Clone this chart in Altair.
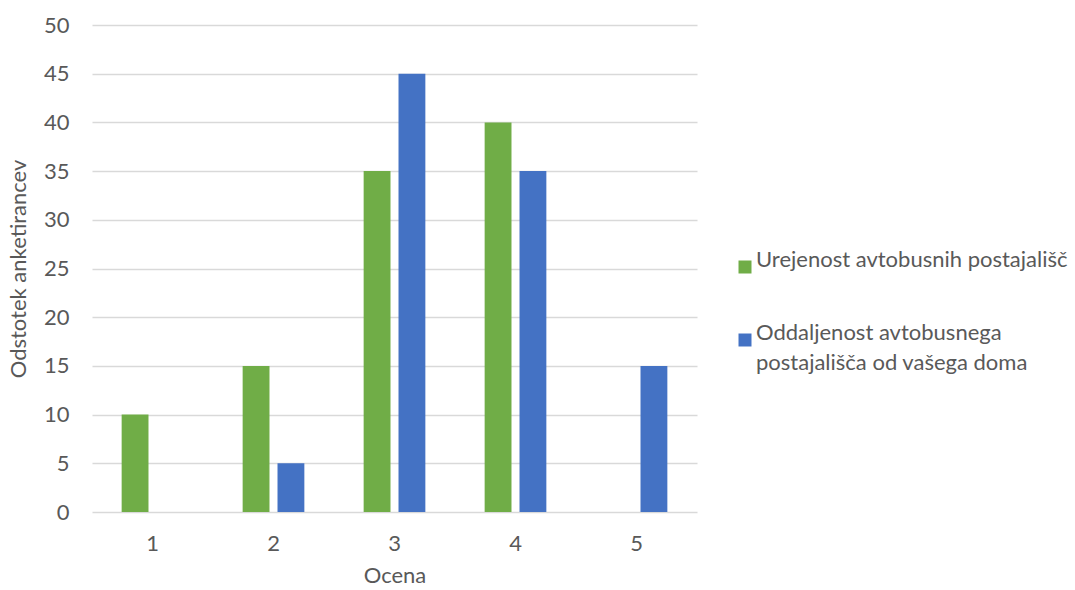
import altair as alt
import pandas as pd

# Survey ratings (1-5) and share of respondents per rating, in percent
ratings = ["1", "2", "3", "4", "5"]
series_names = [
    "Urejenost avtobusnih postajališč",
    "Oddaljenost avtobusnega postajališča od vašega doma",
]
urejenost = [10, 15, 35, 40, 0]
oddaljenost = [0, 5, 45, 35, 15]
series_colors = ["#70AD47", "#4472C4"]

rows = []
for name, values in zip(series_names, [urejenost, oddaljenost]):
    for r, v in zip(ratings, values):
        rows.append({"Ocena": r, "Serija": name, "Odstotek": v})
df = pd.DataFrame(rows)

FONT = "Lato"
TEXT = "#595959"
SIZE = 22

label_expr = (
    "datum.label == '" + series_names[1] + "' ? "
    "['Oddaljenost avtobusnega', 'postajališča od vašega doma'] : datum.label"
)

chart = (
    alt.Chart(df)
    .mark_bar()
    .encode(
        x=alt.X(
            "Ocena:N",
            sort=ratings,
            scale=alt.Scale(paddingInner=0.49, paddingOuter=0.245),
            axis=alt.Axis(
                title="Ocena",
                labelAngle=0,
                labelPadding=21,
                titlePadding=11,
                ticks=False,
                domain=False,
                grid=False,
            ),
        ),
        xOffset=alt.XOffset(
            "Serija:N",
            sort=series_names,
            scale=alt.Scale(paddingInner=0.23, paddingOuter=0),
        ),
        y=alt.Y(
            "Odstotek:Q",
            scale=alt.Scale(domain=[0, 50]),
            axis=alt.Axis(
                title="Odstotek anketirancev",
                values=list(range(0, 55, 5)),
                ticks=False,
                domain=False,
                labelPadding=23,
                titlePadding=13,
                gridColor="#D9D9D9",
                gridWidth=1.3,
            ),
        ),
        color=alt.Color(
            "Serija:N",
            sort=series_names,
            scale=alt.Scale(domain=series_names, range=series_colors),
            legend=alt.Legend(
                title=None,
                orient="none",
                legendX=642,
                legendY=231,
                symbolType="square",
                symbolSize=169,
                symbolStrokeWidth=0,
                labelOffset=0,
                labelExpr=label_expr,
                labelLimit=400,
                labelBaseline="alphabetic",
                rowPadding=48,
                padding=0,
            ),
        ),
    )
    .properties(
        width=605,
        height=487,
        padding={"left": 92, "top": 25, "right": 378, "bottom": 78},
        autosize=alt.AutoSizeParams(type="none"),
    )
    .configure(style={"guide-label": {"lineHeight": 30}})
    .configure_view(stroke=None)
    .configure_axis(
        labelFont=FONT,
        titleFont=FONT,
        labelFontSize=SIZE,
        titleFontSize=SIZE,
        labelColor=TEXT,
        titleColor=TEXT,
        titleFontWeight="normal",
    )
    .configure_legend(
        labelFont=FONT,
        labelFontSize=SIZE,
        labelColor=TEXT,
    )
)

chart.save("out.html", embed_options={"renderer": "svg", "actions": False})
